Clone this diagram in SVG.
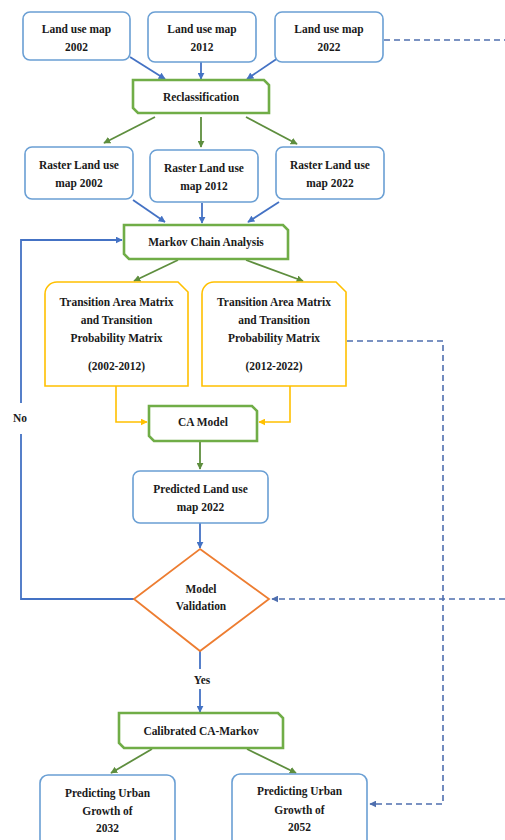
<svg xmlns="http://www.w3.org/2000/svg" width="505" height="840" viewBox="0 0 505 840">
<defs>
<style>
text{font-family:'Liberation Serif','Times New Roman',serif;font-weight:bold;font-size:13px;fill:#1a1a1a;text-anchor:middle}
.bbox{fill:#fff;stroke:#6A9FD4;stroke-width:1.6}
.gbox{fill:#fff;stroke:#70AD47;stroke-width:2.6}
.ybox{fill:#fff;stroke:#FFC000;stroke-width:1.6}
.dbox{fill:#fff;stroke:#ED7D31;stroke-width:1.8}
.cb{fill:none;stroke:#4472C4;stroke-width:1.8}
.cg{fill:none;stroke:#5E8E3E;stroke-width:1.8}
.cy{fill:none;stroke:#FFC000;stroke-width:1.6}
.cd{fill:none;stroke:#4F6FAF;stroke-width:1.6;stroke-dasharray:6 4}
</style>
<marker id="ab" viewBox="0 0 10 10" refX="9" refY="5" markerWidth="7" markerHeight="7" markerUnits="userSpaceOnUse" orient="auto"><path d="M0,0 L10,5 L0,10 Z" fill="#4472C4"/></marker>
<marker id="ag" viewBox="0 0 10 10" refX="9" refY="5" markerWidth="7" markerHeight="7" markerUnits="userSpaceOnUse" orient="auto"><path d="M0,0 L10,5 L0,10 Z" fill="#5E8E3E"/></marker>
<marker id="ay" viewBox="0 0 10 10" refX="9" refY="5" markerWidth="7" markerHeight="7" markerUnits="userSpaceOnUse" orient="auto"><path d="M0,0 L10,5 L0,10 Z" fill="#FFC000"/></marker>
<marker id="ad" viewBox="0 0 10 10" refX="9" refY="5" markerWidth="7" markerHeight="7" markerUnits="userSpaceOnUse" orient="auto"><path d="M0,0 L10,5 L0,10 Z" fill="#4F6FAF"/></marker>
</defs>
<rect width="505" height="840" fill="#fff"/>

<g id="connectors">
<line class="cb" x1="130" y1="57" x2="165" y2="79" marker-end="url(#ab)"/>
<line class="cb" x1="201" y1="61" x2="201" y2="79" marker-end="url(#ab)"/>
<line class="cb" x1="278" y1="58" x2="247" y2="79" marker-end="url(#ab)"/>
<line class="cg" x1="155" y1="117" x2="104" y2="143" marker-end="url(#ag)"/>
<line class="cg" x1="201" y1="117" x2="201" y2="147" marker-end="url(#ag)"/>
<line class="cg" x1="246" y1="117" x2="297" y2="144" marker-end="url(#ag)"/>
<line class="cb" x1="133" y1="200" x2="165" y2="222" marker-end="url(#ab)"/>
<line class="cb" x1="202" y1="203" x2="202" y2="223" marker-end="url(#ab)"/>
<line class="cb" x1="279" y1="202" x2="248" y2="222" marker-end="url(#ab)"/>
<line class="cg" x1="178" y1="260" x2="134" y2="281" marker-end="url(#ag)"/>
<line class="cg" x1="246" y1="260" x2="303" y2="281" marker-end="url(#ag)"/>
<path class="cy" d="M116,386 V422 H147" marker-end="url(#ay)"/>
<path class="cy" d="M290,386 V422 H259" marker-end="url(#ay)"/>
<line class="cg" x1="200" y1="442" x2="200" y2="469" marker-end="url(#ag)"/>
<line class="cb" x1="200" y1="523" x2="200" y2="548" stroke-width="2.6" marker-end="url(#ab)"/>
<path class="cb" d="M134,599 H21 V434"/>
<path class="cb" d="M21,403 V240 H122" marker-end="url(#ab)"/>
<path class="cb" d="M200,651 V669" stroke-width="2.4"/>
<path class="cb" d="M200,689 V712" stroke-width="2.4" marker-end="url(#ab)"/>
<line class="cg" x1="152" y1="749" x2="111" y2="773" marker-end="url(#ag)"/>
<line class="cg" x1="247" y1="749" x2="296" y2="773" marker-end="url(#ag)"/>
<path class="cd" d="M384,40 H505"/>
<path class="cd" d="M505,599 H272" marker-end="url(#ad)"/>
<path class="cd" d="M347,341 H443 V804 H370" marker-end="url(#ad)"/>
</g>

<g id="lu2002"><rect class="bbox" x="23" y="12" width="107" height="48" rx="7"/><text transform="translate(76.5 33) scale(0.88 1)">Land use map</text><text transform="translate(76.5 51) scale(0.88 1)">2002</text></g>
<g id="lu2012"><rect class="bbox" x="148" y="12" width="108" height="50" rx="7"/><text transform="translate(202 33) scale(0.88 1)">Land use map</text><text transform="translate(202 51) scale(0.88 1)">2012</text></g>
<g id="lu2022"><rect class="bbox" x="275" y="12" width="108" height="50" rx="7"/><text transform="translate(329 33) scale(0.88 1)">Land use map</text><text transform="translate(329 51) scale(0.88 1)">2022</text></g>

<g id="reclass"><path class="gbox" d="M133,80 H264 L269,85 V113 H138 L133,108 Z"/><text transform="translate(201 101) scale(0.88 1)">Reclassification</text></g>

<g id="r2002"><rect class="bbox" x="25" y="147" width="108" height="52" rx="7"/><text transform="translate(79 169) scale(0.88 1)">Raster Land use</text><text transform="translate(79 187) scale(0.88 1)">map 2002</text></g>
<g id="r2012"><rect class="bbox" x="150" y="150" width="108" height="52" rx="7"/><text transform="translate(204 172) scale(0.88 1)">Raster Land use</text><text transform="translate(204 190) scale(0.88 1)">map 2012</text></g>
<g id="r2022"><rect class="bbox" x="276" y="147" width="108" height="52" rx="7"/><text transform="translate(330 169) scale(0.88 1)">Raster Land use</text><text transform="translate(330 187) scale(0.88 1)">map 2022</text></g>

<g id="markov"><path class="gbox" d="M124,225 H283 L288,230 V259 H129 L124,254 Z"/><text transform="translate(206 246) scale(0.88 1)">Markov Chain Analysis</text></g>

<g id="tm1"><path class="ybox" d="M45,386 V294 A12,12 0 0 1 57,282 H178 L188,292 V386 Z"/><text transform="translate(116.5 306) scale(0.88 1)">Transition Area Matrix</text><text transform="translate(116.5 324) scale(0.88 1)">and Transition</text><text transform="translate(116.5 342) scale(0.88 1)">Probability Matrix</text><text transform="translate(116.5 370) scale(0.88 1)">(2002-2012)</text></g>
<g id="tm2"><path class="ybox" d="M202,386 V294 A12,12 0 0 1 214,282 H336 L346,292 V386 Z"/><text transform="translate(274 306) scale(0.88 1)">Transition Area Matrix</text><text transform="translate(274 324) scale(0.88 1)">and Transition</text><text transform="translate(274 342) scale(0.88 1)">Probability Matrix</text><text transform="translate(274 370) scale(0.88 1)">(2012-2022)</text></g>

<g id="ca"><path class="gbox" d="M149,406 H252 L257,411 V441 H154 L149,436 Z"/><text transform="translate(203 426) scale(0.88 1)">CA Model</text></g>

<g id="pred"><rect class="bbox" x="133" y="471" width="135" height="52" rx="7"/><text transform="translate(200.5 493) scale(0.88 1)">Predicted Land use</text><text transform="translate(200.5 511) scale(0.88 1)">map 2022</text></g>

<g id="valid"><path class="dbox" d="M200,549 L269,599 L200,651 L134,599 Z"/><text transform="translate(201 593) scale(0.88 1)">Model</text><text transform="translate(201 610) scale(0.88 1)">Validation</text></g>

<g id="labels"><text transform="translate(20 422) scale(0.88 1)">No</text><text transform="translate(202 684) scale(0.88 1)">Yes</text></g>

<g id="calib"><path class="gbox" d="M119,713 H278 L283,718 V748 H124 L119,743 Z"/><text transform="translate(201 735) scale(0.88 1)">Calibrated CA-Markov</text></g>

<g id="p2032"><rect class="bbox" x="40" y="775" width="135" height="80" rx="8"/><text transform="translate(107.5 797) scale(0.88 1)">Predicting Urban</text><text transform="translate(107.5 815) scale(0.88 1)">Growth of</text><text transform="translate(107.5 832) scale(0.88 1)">2032</text></g>
<g id="p2052"><rect class="bbox" x="232" y="774" width="135" height="80" rx="8"/><text transform="translate(299.5 795) scale(0.88 1)">Predicting Urban</text><text transform="translate(299.5 814) scale(0.88 1)">Growth of</text><text transform="translate(299.5 831) scale(0.88 1)">2052</text></g>
</svg>
